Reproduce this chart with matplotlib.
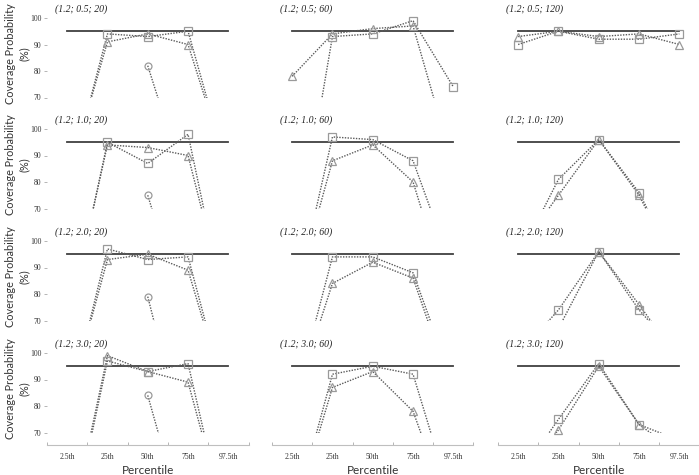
import numpy as np
import matplotlib
matplotlib.use("Agg")
import matplotlib.pyplot as plt
from matplotlib.ticker import FixedLocator

nan = np.nan

# 横轴类别
percentiles = ["2.5th", "25th", "50th", "75th", "97.5th"]
target = [95, 95, 95, 95, 95]

# 面板标题（行：第二个参数；列：样本量）
titles = [
    ["(1.2; 0.5; 20)", "(1.2; 0.5; 60)", "(1.2; 0.5; 120)"],
    ["(1.2; 1.0; 20)", "(1.2; 1.0; 60)", "(1.2; 1.0; 120)"],
    ["(1.2; 2.0; 20)", "(1.2; 2.0; 60)", "(1.2; 2.0; 120)"],
    ["(1.2; 3.0; 20)", "(1.2; 3.0; 60)", "(1.2; 3.0; 120)"],
]

# 方块系列
square = [
    [[36, 94, 93, 95, 41], [4, 93, 94, 99, 74], [90, 95, 92, 92, 94]],
    [[24, 95, 87, 98, 26], [30, 97, 96, 88, 46], [51, 81, 96, 76, 46]],
    [[35, 97, 93, 94, 37], [36, 94, 94, 88, 46], [57, 74, 96, 74, 57]],
    [[26, 97, 93, 96, 30], [36, 92, 95, 92, 42], [53, 75, 96, 73, 67]],
]

# 三角系列
triangle = [
    [[38, 91, 94, 90, 42], [78, 94, 96, 97, 44], [93, 95, 93, 94, 90]],
    [[26, 94, 93, 90, 30], [33, 88, 94, 80, 31], [54, 75, 96, 75, 45]],
    [[37, 93, 95, 89, 38], [37, 84, 92, 86, 42], [40, 67, 96, 76, 55]],
    [[28, 99, 93, 89, 33], [36, 87, 93, 78, 36], [50, 71, 95, 73, 62]],
]

# 圆圈系列（只在第一列出现）
circle = [
    [[nan, nan, 82, 34, nan], None, None],
    [[nan, nan, 75, 25, nan], None, None],
    [[nan, nan, 79, 19, nan], None, None],
    [[nan, nan, 84, 30, nan], None, None],
]

W, H = 699, 475
fig = plt.figure(figsize=(W / 100, H / 100), dpi=100)

col_left = [47, 272, 498]
ax_w = 201.5
row_top = [18, 129, 241, 353]   # y 像素位置 (100)
ax_h = 79.5

line_col = "#5a5a5a"
mark_col = "#9a9a9a"
x = np.arange(len(percentiles))


def draw_series(ax, vals, marker, ms):
    vals = np.array(vals, dtype=float)
    ax.plot(x, vals, linestyle=(0, (1, 1)), lw=1.0, color=line_col, zorder=2)
    shown = np.where(vals >= 70, vals, nan)
    ax.plot(x, shown, linestyle="none", marker=marker, ms=ms,
            mfc="none", mec=mark_col, mew=0.9, clip_on=False, zorder=3)


for r in range(4):
    for c in range(3):
        left = col_left[c] / W
        bottom = (H - row_top[r] - ax_h) / H
        ax = fig.add_axes([left, bottom, ax_w / W, ax_h / H])
        ax.set_xlim(-0.5, 4.5)
        ax.set_ylim(70, 100)
        for s in ["top", "right", "left"]:
            ax.spines[s].set_visible(False)

        ax.plot(x, target, color="#404040", lw=1.3, zorder=1)
        draw_series(ax, square[r][c], "s", 5.5)
        draw_series(ax, triangle[r][c], "^", 5.5)
        if circle[r][c] is not None:
            draw_series(ax, circle[r][c], "o", 5.0)

        ax.text(8 / ax_w, 1 + 9 / ax_h, titles[r][c], transform=ax.transAxes,
                ha="left", va="center", fontsize=7, style="italic",
                family="Liberation Serif", color="#222222")

        if c == 0:
            ax.set_yticks([70, 80, 90, 100])
            ax.tick_params(axis="y", length=2, width=0.6, color="#aaaaaa",
                           pad=2, labelsize=5.5, labelcolor="#333333")
            for t in ax.get_yticklabels():
                t.set_family("Liberation Serif")
            fig.text(17 / W, 1 - (row_top[r] + ax_h / 2 - 4) / H,
                     "Coverage Probability\n(%)", rotation=90, ha="center",
                     va="center", fontsize=7.8, family="Lato",
                     color="#333333", linespacing=1.3)
        else:
            ax.set_yticks([])

        if r == 3:
            ax.spines["bottom"].set_position(("outward", 9))
            ax.spines["bottom"].set_color("#bfbfbf")
            ax.spines["bottom"].set_linewidth(0.8)
            ax.set_xticks(x)
            ax.set_xticklabels(percentiles)
            ax.xaxis.set_minor_locator(FixedLocator(np.arange(-0.5, 5, 1)))
            ax.tick_params(axis="x", which="major", length=0, pad=6,
                           labelsize=5.5, labelcolor="#333333")
            ax.tick_params(axis="x", which="minor", length=2.5, width=0.6,
                           direction="in", color="#aaaaaa")
            for t in ax.get_xticklabels():
                t.set_family("Liberation Serif")
            ax.set_xlabel("Percentile", fontsize=8.5, family="Lato",
                          color="#333333", labelpad=3)
        else:
            ax.spines["bottom"].set_visible(False)
            ax.set_xticks([])

fig.savefig("out.png", dpi=100)
